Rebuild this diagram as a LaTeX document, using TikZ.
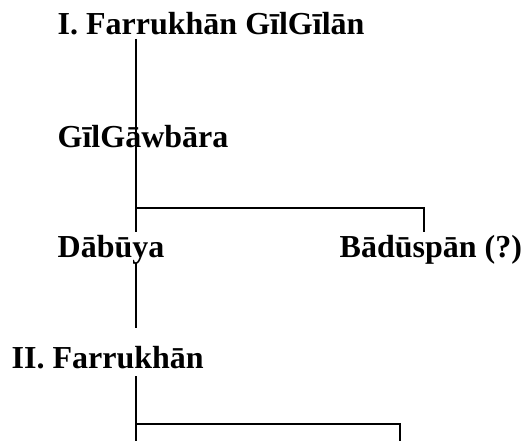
\documentclass[tikz,border=0pt]{standalone}
\usepackage{fontspec}
\setmainfont{Liberation Serif}
\begin{document}
\begin{tikzpicture}[x=1pt,y=-1pt,
  person/.style={anchor=base west,inner sep=0pt,font=\fontsize{32}{38}\selectfont\bfseries},
  famlink/.style={line width=1.8pt,line cap=butt}]
\useasboundingbox (0,0) rectangle (524,441);
\node[person] (f1) at (57.5,35) {I. Farrukhān GīlGīlān};
\node[person] (gg) at (57.5,147) {GīlGāwbāra};
\node[person] (db) at (57.5,257) {Dābūya};
\node[person] (bd) at (339.5,257) {Bādūspān (?)};
\node[person] (f2) at (11.5,368) {II. Farrukhān};
% connector end points
\coordinate (a1) at (136,39);
\coordinate (a2) at (136,232);
\coordinate (j1) at (136,208);
\coordinate (b1) at (424,232);
\coordinate (d1) at (136,263);
\coordinate (d2) at (136,328);
\coordinate (e1) at (136,376);
\coordinate (e2) at (136,441);
\coordinate (j2) at (136,424);
\coordinate (e3) at (400,441);
\draw[famlink] (a1) -- (a2);
\draw[famlink] (j1) -| (b1);
\draw[famlink] (d1) -- (d2);
\draw[famlink] (e1) -- (e2);
\draw[famlink] (j2) -| (e3);
\end{tikzpicture}
\end{document}
